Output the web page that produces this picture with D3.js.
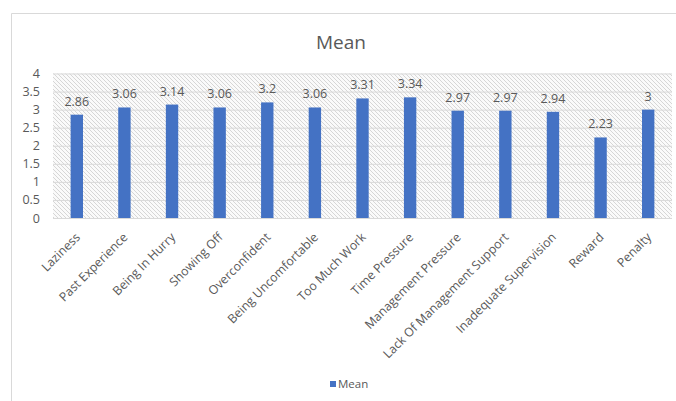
<!DOCTYPE html>
<html>
<head>
<meta charset="utf-8">
<script src="https://cdn.jsdelivr.net/npm/d3@7"></script>
<style>
  html, body { margin: 0; padding: 0; background: #fff; }
  text { font-family: "Open Sans", "Liberation Sans", sans-serif; }
</style>
</head>
<body>
<svg id="chart" width="676" height="401"></svg>
<script>
const categories = ["Laziness", "Past Experience", "Being In Hurry", "Showing Off", "Overconfident",
  "Being Uncomfortable", "Too Much Work", "Time Pressure", "Management Pressure",
  "Lack Of Management Support", "Inadequate Supervision", "Reward", "Penalty"];
const meanValues = [2.86, 3.06, 3.14, 3.06, 3.2, 3.06, 3.31, 3.34, 2.97, 2.97, 2.94, 2.23, 3];
const meanLabels = ["2.86", "3.06", "3.14", "3.06", "3.2", "3.06", "3.31", "3.34", "2.97", "2.97", "2.94", "2.23", "3"];
const yTicks = [0, 0.5, 1, 1.5, 2, 2.5, 3, 3.5, 4];
const seriesName = "Mean";

const svg = d3.select("#chart");
const W = 676, H = 401;
const plot = { left: 53, right: 672, top: 73.5, bottom: 218 };
const barColor = "#4472C4";
const textColor = "#595959";

// chart border (cropped: only top and left visible)
svg.append("path")
  .attr("d", `M11.5,${H} L11.5,13.5 L${W},13.5`)
  .attr("fill", "none").attr("stroke", "#d9d9d9").attr("stroke-width", 1);

// hatch pattern
const defs = svg.append("defs");
const pat = defs.append("pattern")
  .attr("id", "hatch").attr("patternUnits", "userSpaceOnUse")
  .attr("width", 4).attr("height", 4);
pat.append("rect").attr("width", 4).attr("height", 4).attr("fill", "#fafafa");
pat.append("path").attr("d", "M-1,-1 L5,5 M-1,3 L1,5 M3,-1 L5,1")
  .attr("stroke", "#d6d6d6").attr("stroke-width", 1);

const x = d3.scaleBand().domain(categories)
  .range([plot.left, plot.right]).paddingInner(0.74).paddingOuter(0.37);
const y = d3.scaleLinear().domain([0, 4]).range([plot.bottom, plot.top]);

svg.append("rect")
  .attr("x", plot.left).attr("y", plot.top)
  .attr("width", plot.right - plot.left).attr("height", plot.bottom - plot.top)
  .attr("fill", "url(#hatch)");

// gridlines
const yAxis = d3.axisLeft(y).tickValues(yTicks).tickSize(-(plot.right - plot.left)).tickPadding(13)
  .tickFormat(d => String(d));
const gy = svg.append("g").attr("transform", `translate(${plot.left},0)`).call(yAxis);
gy.select(".domain").remove();
gy.selectAll(".tick line").attr("stroke", "#d9d9d9").attr("stroke-width", 1);
gy.selectAll(".tick text").attr("fill", textColor).style("font-size", "12.5px");

// x axis baseline
svg.append("line")
  .attr("x1", plot.left).attr("x2", plot.right)
  .attr("y1", y(0) + 0.5).attr("y2", y(0) + 0.5)
  .attr("stroke", "#d9d9d9");

// bars
svg.append("g").selectAll("rect").data(categories).join("rect")
  .attr("x", (d) => x(d))
  .attr("width", x.bandwidth())
  .attr("y", (d, i) => y(meanValues[i]))
  .attr("height", (d, i) => y(0) - y(meanValues[i]))
  .attr("fill", barColor);

// data labels
svg.append("g").selectAll("text").data(categories).join("text")
  .attr("x", d => x(d) + x.bandwidth() / 2)
  .attr("y", (d, i) => y(meanValues[i]) - 9)
  .attr("text-anchor", "middle")
  .attr("fill", textColor)
  .style("font-size", "12.5px")
  .text((d, i) => meanLabels[i]);

// x axis labels
const xAxis = d3.axisBottom(x).tickSize(0).tickPadding(0);
const gx = svg.append("g").attr("transform", `translate(0,${plot.bottom})`).call(xAxis);
gx.select(".domain").remove();
gx.selectAll(".tick text")
  .attr("fill", textColor)
  .style("font-size", "12.3px")
  .attr("text-anchor", "end")
  .attr("dy", "0")
  .attr("transform", "translate(4,20) rotate(-45)");

// title
svg.append("text")
  .attr("x", 341).attr("y", 49)
  .attr("text-anchor", "middle")
  .attr("fill", textColor)
  .style("font-size", "19px")
  .text(seriesName);

// legend
const lg = svg.append("g").attr("transform", "translate(330,381)");
lg.append("rect").attr("width", 6).attr("height", 6).attr("fill", barColor);
lg.append("text").attr("x", 8).attr("y", 7).attr("fill", textColor)
  .style("font-size", "11.5px").text(seriesName);
</script>
</body>
</html>
